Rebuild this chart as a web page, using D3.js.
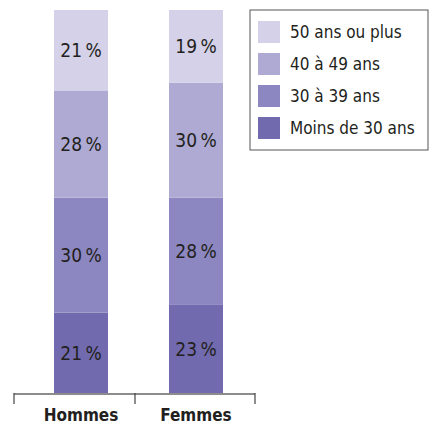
<!DOCTYPE html>
<html>
<head>
<meta charset="utf-8">
<script src="https://cdnjs.cloudflare.com/ajax/libs/d3/7.8.5/d3.min.js"></script>
<style>
  body { margin: 0; background: #fff; }
  svg { display: block; }
  text { font-family: "Liberation Sans Narrow", "DejaVu Sans Condensed", "Open Sans", sans-serif; fill: #231f20; }
</style>
</head>
<body>
<svg id="chart"></svg>
<script>
// categories and series (bottom to top)
var groups = ["Hommes", "Femmes"];
var ageBands = ["Moins de 30 ans", "30 à 39 ans", "40 à 49 ans", "50 ans ou plus"];
var moins30 = [21, 23];
var de30a39 = [30, 28];
var de40a49 = [28, 30];
var plus50 = [21, 19];
var colors = ["#716aae", "#8c87c1", "#aeaad3", "#d4d1e8"];

var width = 430, height = 425;

var svg = d3.select("#chart")
  .attr("width", width)
  .attr("height", height);

var rows = groups.map(function(g, i) {
  return { group: g, "Moins de 30 ans": moins30[i], "30 à 39 ans": de30a39[i],
           "40 à 49 ans": de40a49[i], "50 ans ou plus": plus50[i] };
});

var stack = d3.stack().keys(ageBands);
var series = stack(rows);

var x = d3.scaleBand()
  .domain(groups)
  .range([19.5, 257.5])
  .paddingInner(0.5304)
  .paddingOuter(0.3);

var y = d3.scaleLinear()
  .domain([0, 100])
  .range([393, 10]);

var color = d3.scaleOrdinal().domain(ageBands).range(colors);

// bars
var layer = svg.selectAll(".layer")
  .data(series)
  .enter().append("g")
  .attr("class", "layer")
  .attr("fill", function(d) { return color(d.key); });

layer.selectAll("rect")
  .data(function(d) { return d; })
  .enter().append("rect")
  .attr("x", function(d) { return x(d.data.group); })
  .attr("y", function(d) { return y(d[1]); })
  .attr("width", x.bandwidth())
  .attr("height", function(d) { return y(d[0]) - y(d[1]); });

layer.selectAll("text")
  .data(function(d) { return d; })
  .enter().append("text")
  .attr("x", function(d) { return x(d.data.group) + x.bandwidth() / 2; })
  .attr("y", function(d) { return (y(d[0]) + y(d[1])) / 2 + 7; })
  .attr("text-anchor", "middle")
  .style("font-size", "19px")
  .text(function(d) { return (d[1] - d[0]) + "\u2009%"; });

// axis
var axis = svg.append("g");
axis.append("line")
  .attr("x1", 14).attr("x2", 255)
  .attr("y1", 394).attr("y2", 394)
  .attr("stroke", "#666").attr("stroke-width", 1.5);
axis.selectAll(".tick")
  .data([14, 135, 255])
  .enter().append("line")
  .attr("x1", function(d) { return d; })
  .attr("x2", function(d) { return d; })
  .attr("y1", 393).attr("y2", 404)
  .attr("stroke", "#444").attr("stroke-width", 1.2);

axis.selectAll(".lab")
  .data(groups)
  .enter().append("text")
  .attr("x", function(d) { return x(d) + x.bandwidth() / 2; })
  .attr("y", 421)
  .attr("text-anchor", "middle")
  .style("font-size", "17px")
  .style("font-weight", "bold")
  .text(function(d) { return d; });

// legend
var legend = svg.append("g");
legend.append("rect")
  .attr("x", 250).attr("y", 10)
  .attr("width", 178).attr("height", 140)
  .attr("fill", "#fff")
  .attr("stroke", "#555").attr("stroke-width", 1);

var items = ageBands.slice().reverse();
var item = legend.selectAll(".item")
  .data(items)
  .enter().append("g")
  .attr("transform", function(d, i) { return "translate(258," + (21 + i * 32) + ")"; });

item.append("rect")
  .attr("width", 22).attr("height", 22)
  .attr("fill", function(d) { return color(d); });

item.append("text")
  .attr("x", 32).attr("y", 17)
  .style("font-size", "17px")
  .text(function(d) { return d; });
</script>
</body>
</html>
